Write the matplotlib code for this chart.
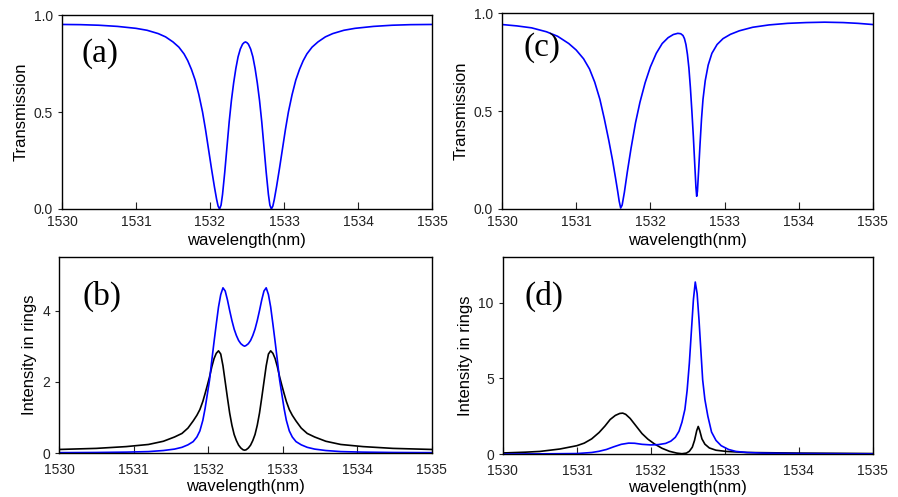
import numpy as np
import matplotlib
matplotlib.use("Agg")
import matplotlib.pyplot as plt

# ---- data ----
# (a) transmission, symmetric double dip
wl_a = [1530.0, 1530.25, 1530.5, 1530.75, 1531.0, 1531.15, 1531.3, 1531.4, 1531.5,
        1531.58, 1531.65, 1531.7, 1531.75, 1531.8, 1531.85, 1531.9, 1531.94, 1531.98,
        1532.02, 1532.06, 1532.09, 1532.11, 1532.13, 1532.15, 1532.17, 1532.2, 1532.23,
        1532.26, 1532.29, 1532.32, 1532.35, 1532.38, 1532.41, 1532.44, 1532.46, 1532.48,
        1532.5, 1532.52, 1532.55, 1532.58, 1532.61, 1532.64, 1532.67, 1532.7, 1532.73,
        1532.76, 1532.79, 1532.81, 1532.83, 1532.85, 1532.87, 1532.9, 1532.94, 1532.98,
        1533.02, 1533.06, 1533.11, 1533.16, 1533.21, 1533.26, 1533.31, 1533.38, 1533.46,
        1533.56, 1533.66, 1533.81, 1533.96, 1534.21, 1534.46, 1534.71, 1535.0]
trans_a = [0.952, 0.951, 0.948, 0.942, 0.932, 0.922, 0.905, 0.888, 0.862,
           0.835, 0.8, 0.765, 0.72, 0.665, 0.59, 0.5, 0.41, 0.31,
           0.21, 0.115, 0.05, 0.015, 0.0, 0.02, 0.075, 0.19, 0.32,
           0.45, 0.56, 0.65, 0.725, 0.785, 0.825, 0.85, 0.858, 0.862,
           0.858, 0.85, 0.825, 0.785, 0.725, 0.65, 0.56, 0.45, 0.32,
           0.19, 0.075, 0.02, 0.0, 0.015, 0.05, 0.115, 0.21, 0.31,
           0.41, 0.5, 0.59, 0.665, 0.72, 0.765, 0.8, 0.835, 0.862,
           0.888, 0.905, 0.922, 0.932, 0.942, 0.948, 0.951, 0.952]

# (b) intensity in rings
wl_b = [1530.0, 1530.5, 1530.9, 1531.2, 1531.4, 1531.55, 1531.65, 1531.73, 1531.8,
        1531.85, 1531.89, 1531.93, 1531.96, 1531.99, 1532.02, 1532.05, 1532.08, 1532.11,
        1532.14, 1532.17, 1532.2, 1532.23, 1532.26, 1532.29, 1532.32, 1532.35, 1532.38,
        1532.41, 1532.44, 1532.47, 1532.49, 1532.51, 1532.54, 1532.57, 1532.6, 1532.63,
        1532.66, 1532.69, 1532.72, 1532.75, 1532.78, 1532.81, 1532.84, 1532.87, 1532.9,
        1532.93, 1532.96, 1532.99, 1533.02, 1533.05, 1533.09, 1533.13, 1533.18, 1533.25,
        1533.33, 1533.43, 1533.58, 1533.78, 1534.08, 1534.48, 1535.0]
blue_b = [0.01, 0.015, 0.025, 0.04, 0.07, 0.11, 0.16, 0.23, 0.32,
          0.45, 0.62, 0.92, 1.25, 1.65, 2.05, 2.6, 3.12, 3.62,
          4.1, 4.45, 4.64, 4.55, 4.3, 4.0, 3.72, 3.48, 3.3,
          3.16, 3.07, 3.02, 3.0, 3.02, 3.07, 3.16, 3.3, 3.48,
          3.72, 4.0, 4.3, 4.55, 4.64, 4.45, 4.1, 3.62, 3.12,
          2.6, 2.05, 1.65, 1.25, 0.92, 0.62, 0.45, 0.32, 0.23,
          0.16, 0.11, 0.07, 0.04, 0.025, 0.015, 0.01]
black_b = [0.1, 0.13, 0.18, 0.24, 0.33, 0.45, 0.55, 0.7, 0.9,
           1.06, 1.22, 1.45, 1.67, 1.9, 2.14, 2.42, 2.65, 2.8,
           2.87, 2.78, 2.45, 2.0, 1.55, 1.12, 0.78, 0.52, 0.35,
           0.22, 0.14, 0.09, 0.08, 0.09, 0.14, 0.22, 0.35, 0.52,
           0.78, 1.12, 1.55, 2.0, 2.45, 2.78, 2.87, 2.8, 2.65,
           2.42, 2.14, 1.9, 1.67, 1.45, 1.22, 1.06, 0.9, 0.7,
           0.55, 0.45, 0.33, 0.24, 0.18, 0.13, 0.1]

# (c) transmission, asymmetric
wl_c = [1530.0, 1530.2, 1530.4, 1530.6, 1530.75, 1530.9, 1531.0, 1531.1, 1531.18,
        1531.25, 1531.32, 1531.38, 1531.44, 1531.49, 1531.53, 1531.56, 1531.58, 1531.6,
        1531.62, 1531.65, 1531.69, 1531.74, 1531.8, 1531.86, 1531.93, 1532.0, 1532.08,
        1532.16, 1532.24, 1532.31, 1532.37, 1532.41, 1532.44, 1532.46, 1532.48, 1532.5,
        1532.52, 1532.54, 1532.56, 1532.58, 1532.6, 1532.615, 1532.625, 1532.635, 1532.65,
        1532.67, 1532.69, 1532.71, 1532.74, 1532.78, 1532.83, 1532.9, 1532.98, 1533.08,
        1533.2, 1533.38, 1533.6, 1533.85, 1534.1, 1534.35, 1534.6, 1534.8, 1535.0]
trans_c = [0.942, 0.935, 0.925, 0.905, 0.882, 0.845, 0.812, 0.767, 0.715,
           0.648, 0.56, 0.46, 0.35, 0.25, 0.16, 0.09, 0.04, 0.005,
           0.02, 0.085, 0.19, 0.31, 0.44, 0.545, 0.645, 0.725, 0.795,
           0.845, 0.875, 0.891, 0.897, 0.895, 0.886, 0.87, 0.84, 0.79,
           0.72, 0.62, 0.5, 0.37, 0.22, 0.11, 0.065, 0.09, 0.19,
           0.33, 0.46, 0.56, 0.655, 0.735, 0.795, 0.84, 0.87, 0.892,
           0.91, 0.928, 0.94, 0.948, 0.952, 0.954, 0.952, 0.948, 0.942]

# (d) intensity in rings
wl_d_black = [1530.0, 1530.3, 1530.5, 1530.77, 1531.0, 1531.1, 1531.2, 1531.3, 1531.38,
              1531.45, 1531.52, 1531.58, 1531.62, 1531.66, 1531.72, 1531.8, 1531.88, 1531.96,
              1532.05, 1532.15, 1532.25, 1532.35, 1532.42, 1532.48, 1532.52, 1532.56, 1532.59,
              1532.62, 1532.64, 1532.66, 1532.69, 1532.73, 1532.79, 1532.88, 1533.02, 1533.3,
              1534.0, 1535.0]
black_d = [0.07, 0.12, 0.17, 0.33, 0.55, 0.72, 1.0, 1.42, 1.85,
           2.28, 2.55, 2.68, 2.7, 2.62, 2.35, 1.85, 1.35, 0.98,
           0.66, 0.38, 0.18, 0.06, 0.02, 0.06, 0.18, 0.45, 0.9,
           1.55, 1.82, 1.55, 1.0, 0.65, 0.4, 0.25, 0.17, 0.1,
           0.06, 0.03]
wl_d_blue = [1530.0, 1530.5, 1531.0, 1531.2, 1531.3, 1531.4, 1531.5, 1531.6, 1531.7,
             1531.78, 1531.88, 1532.0, 1532.1, 1532.2, 1532.27, 1532.33, 1532.38, 1532.42,
             1532.46, 1532.49, 1532.52, 1532.55, 1532.575, 1532.6, 1532.625, 1532.65, 1532.67,
             1532.7, 1532.73, 1532.77, 1532.82, 1532.88, 1532.95, 1533.05, 1533.15, 1533.3,
             1533.5, 1534.0, 1535.0]
blue_d = [0.0, 0.01, 0.03, 0.1, 0.18, 0.3, 0.48, 0.64, 0.72,
          0.71, 0.64, 0.6, 0.62, 0.7, 0.85, 1.1, 1.5, 2.1,
          2.95, 4.2, 6.0, 8.3, 10.2, 11.36, 10.6, 8.9, 7.3,
          4.9, 3.6, 2.5, 1.45, 0.9, 0.55, 0.3, 0.17, 0.1,
          0.06, 0.03, 0.01]

xticks = [1530, 1531, 1532, 1533, 1534, 1535]

plt.rcParams.update({'font.family': 'Liberation Sans',
                     'font.size': 10,
                     'axes.linewidth': 1.0,
                     'xtick.direction': 'in',
                     'ytick.direction': 'out',
                     'xtick.major.size': 5,
                     'ytick.major.size': 3,
                     'xtick.color': '#222222',
                     'ytick.color': '#222222'})

fig = plt.figure(figsize=(8.98, 4.97), dpi=100)
ax_a = fig.add_axes([0.069, 0.5795, 0.412, 0.390])
ax_c = fig.add_axes([0.559, 0.5795, 0.413, 0.394])
ax_b = fig.add_axes([0.0657, 0.0885, 0.415, 0.394])
ax_d = fig.add_axes([0.560, 0.0865, 0.412, 0.396])

ax_a.plot(wl_a, trans_a, color='#0000ff', lw=1.2)
ax_c.plot(wl_c, trans_c, color='#0000ff', lw=1.2)
ax_b.plot(wl_b, black_b, color='black', lw=1.2)
ax_b.plot(wl_b, blue_b, color='#0000ff', lw=1.2)
ax_d.plot(wl_d_black, black_d, color='black', lw=1.2)
ax_d.plot(wl_d_blue, blue_d, color='#0000ff', lw=1.2)

for ax in [ax_a, ax_c]:
    ax.set_ylim(0, 1.0)
    ax.set_yticks([0.0, 0.5, 1.0])
    ax.set_yticklabels(['0.0', '0.5', '1.0'])
    ax.set_ylabel('Transmission', fontsize=12)
    ax.set_xlabel('wavelength(nm)', fontsize=12, labelpad=3)
    ax.tick_params(axis='x', pad=4.5)
ax_b.set_ylim(0, 5.5)
ax_b.set_yticks([0, 2, 4])
ax_d.set_ylim(0, 13)
ax_d.set_yticks([0, 5, 10])
for ax in [ax_b, ax_d]:
    ax.set_ylabel('Intensity in rings', fontsize=12)
    ax.set_xlabel('wavelength(nm)', fontsize=12, labelpad=1)
    ax.tick_params(axis='x', pad=7.5)

for ax in [ax_a, ax_b, ax_c, ax_d]:
    ax.set_xlim(1530, 1535)
    ax.set_xticks(xticks)

labels = [(ax_a, '(a)', 0.054, 0.80), (ax_c, '(c)', 0.057, 0.826),
          (ax_b, '(b)', 0.064, 0.80), (ax_d, '(d)', 0.059, 0.80)]
for ax, txt, x, y in labels:
    ax.text(x, y, txt, transform=ax.transAxes, fontsize=24,
            family='Liberation Serif', ha='left', va='center')

plt.savefig('out.png', dpi=100)
